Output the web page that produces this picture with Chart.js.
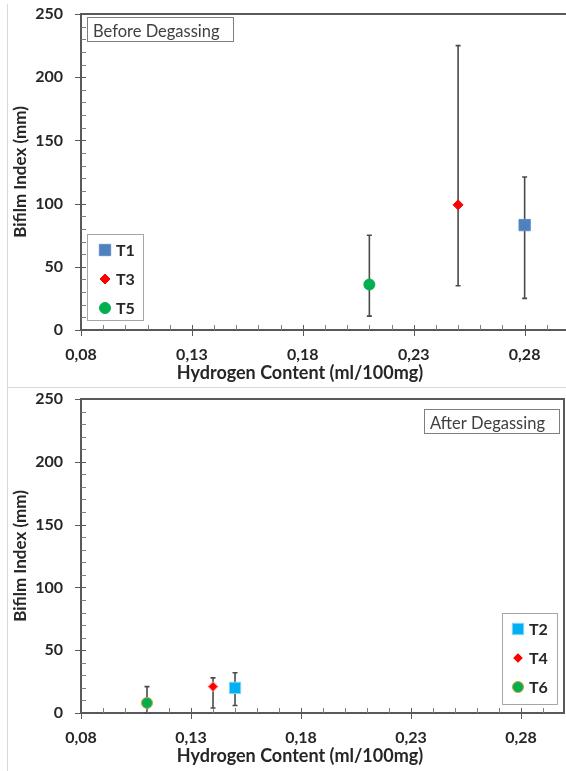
<!DOCTYPE html>
<html>
<head>
<meta charset="utf-8">
<script src="https://cdn.jsdelivr.net/npm/chart.js@4.4.1/dist/chart.umd.min.js"></script>
<style>
  html, body { margin: 0; padding: 0; background: #fff; width: 566px; height: 771px; overflow: hidden; position: relative; }
  .panel { position: absolute; left: 0; overflow: hidden; }
  #beforePanel { top: 0; width: 566px; height: 388px; }
  #afterPanel { top: 388px; width: 566px; height: 383px; }
  .frame { position: absolute; border-color: #d9d9d9; border-style: solid; border-width: 0; }
  #beforeFrame { left: 7px; top: 4px; width: 600px; height: 383px; border-left-width: 1px; border-bottom-width: 1px; }
  #afterFrame { left: 7px; top: 388px; width: 600px; height: 400px; border-left-width: 1px; }
  canvas { position: absolute; left: 0; top: 0; }
</style>
</head>
<body>
<div class="frame" id="beforeFrame"></div>
<div class="frame" id="afterFrame"></div>
<div class="panel" id="beforePanel"><canvas id="beforeChart" width="572" height="388"></canvas></div>
<div class="panel" id="afterPanel"><canvas id="afterChart" width="566" height="383"></canvas></div>
<script>
// before degassing
const beforeSeries = ['T1', 'T3', 'T5'];
const beforeHydrogen = [0.28, 0.25, 0.21];
const beforeBifilm = [83, 99, 36];
const beforeLow = [25, 35, 11];
const beforeHigh = [121, 225, 75];

// after degassing
const afterSeries = ['T2', 'T4', 'T6'];
const afterHydrogen = [0.15, 0.14, 0.11];
const afterBifilm = [20, 21, 8];
const afterLow = [6, 4, 0];
const afterHigh = [32, 28, 21];

const xTicks = [0.08, 0.13, 0.18, 0.23, 0.28];
const yTicks = [0, 50, 100, 150, 200, 250];

function createPalette() {
  return {
    blue: '#4f81bd',
    cyan: '#00b0f0',
    red: '#ff0000',
    green: '#00b050',
    axis: '#595959',
    errorBar: '#4a4a4a',
    text: '#262626',
    legendBorder: '#a6a6a6'
  };
}

const FONT = 'Lato, "Open Sans", sans-serif';
const X_TITLE = 'Hydrogen Content (ml/100mg)';

const errorBarsPlugin = {
  id: 'errorBars',
  beforeDatasetsDraw(chart) {
    const { ctx, scales: { x, y } } = chart;
    ctx.save();
    ctx.strokeStyle = createPalette().errorBar;
    ctx.lineWidth = 1.6;
    chart.data.datasets.forEach(ds => {
      ds.data.forEach((pt, i) => {
        const px = x.getPixelForValue(pt.x);
        const top = y.getPixelForValue(ds.errHigh[i]);
        const bot = y.getPixelForValue(ds.errLow[i]);
        ctx.beginPath();
        ctx.moveTo(px, top); ctx.lineTo(px, bot);
        ctx.moveTo(px - 2.5, top); ctx.lineTo(px + 2.5, top);
        ctx.moveTo(px - 2.5, bot); ctx.lineTo(px + 2.5, bot);
        ctx.stroke();
      });
    });
    ctx.restore();
  }
};

const axisDecorPlugin = {
  id: 'axisDecor',
  afterDraw(chart) {
    const { ctx, chartArea: a, scales: { x, y } } = chart;
    const pal = createPalette();
    ctx.save();
    ctx.strokeStyle = pal.axis;
    // plot frame top and right
    ctx.lineWidth = 2;
    ctx.beginPath();
    ctx.moveTo(a.left, a.top); ctx.lineTo(a.right, a.top); ctx.lineTo(a.right, a.bottom);
    ctx.stroke();
    // minor ticks
    ctx.lineWidth = 1;
    ctx.strokeStyle = '#7f7f7f';
    ctx.beginPath();
    for (let v = 0.08; v <= x.max + 1e-9; v += 0.01) {
      const px = Math.round(x.getPixelForValue(v)) + 0.5;
      ctx.moveTo(px, a.bottom); ctx.lineTo(px, a.bottom - 5);
    }
    for (let v = 0; v <= y.max; v += 10) {
      const py = Math.round(y.getPixelForValue(v)) + 0.5;
      ctx.moveTo(a.left, py); ctx.lineTo(a.left + 5, py);
    }
    ctx.stroke();
    // major ticks crossing the axes
    ctx.strokeStyle = pal.axis;
    ctx.beginPath();
    x.ticks.forEach(t => {
      const px = Math.round(x.getPixelForValue(t.value)) + 0.5;
      ctx.moveTo(px, a.bottom - 5); ctx.lineTo(px, a.bottom + 6);
    });
    y.ticks.forEach(t => {
      const py = Math.round(y.getPixelForValue(t.value)) + 0.5;
      ctx.moveTo(a.left - 6, py); ctx.lineTo(a.left + 5, py);
    });
    ctx.stroke();

    // x axis title, sits left of the plot centre like the original
    ctx.fillStyle = pal.text;
    ctx.font = 'bold 18px ' + FONT;
    ctx.textAlign = 'center';
    ctx.textBaseline = 'middle';
    ctx.fillText(X_TITLE, a.left + 219, a.bottom + 43);

    // caption box
    const cap = chart.options.plugins.caption;
    const cx = cap.anchor === 'left' ? a.left + cap.dx : a.right - cap.dx - cap.w;
    const cy = a.top + cap.dy;
    ctx.fillStyle = '#fff';
    ctx.fillRect(cx, cy, cap.w, cap.h);
    ctx.strokeStyle = '#7f7f7f';
    ctx.lineWidth = 1;
    ctx.strokeRect(cx + 0.5, cy + 0.5, cap.w, cap.h);
    ctx.fillStyle = '#404040';
    ctx.font = '16.5px ' + FONT;
    ctx.textBaseline = 'alphabetic';
    ctx.textAlign = 'left';
    ctx.fillText(cap.text, cx + 6, cy + cap.h - 4);

    // inset legend
    const lg = chart.options.plugins.insetLegend;
    const lx = lg.anchor === 'left' ? a.left + lg.dx : a.right - lg.dx - lg.w;
    const ly = a.bottom - lg.dy - lg.h;
    ctx.fillStyle = '#fff';
    ctx.fillRect(lx, ly, lg.w, lg.h);
    ctx.strokeStyle = pal.legendBorder;
    ctx.strokeRect(lx + 0.5, ly + 0.5, lg.w, lg.h);
    ctx.font = 'bold 16px ' + FONT;
    ctx.textBaseline = 'middle';
    chart.data.datasets.forEach((ds, i) => {
      const my = ly + 16 + i * 29;
      const mx = lx + lg.markerX;
      ctx.fillStyle = ds.backgroundColor;
      ctx.strokeStyle = ds.borderColor;
      ctx.lineWidth = 1;
      Chart.helpers.drawPoint(ctx, { pointStyle: ds.pointStyle, radius: ds.pointRadius, borderWidth: 1, rotation: 0 }, mx, my);
      ctx.fillStyle = pal.text;
      ctx.fillText(ds.label, mx + 11, my + 1);
    });
    ctx.restore();
  }
};

function buildDatasets(names, xs, ys, lows, highs, looks) {
  return names.map((name, i) => ({
    label: name,
    data: [{ x: xs[i], y: ys[i] }],
    errLow: [lows[i]],
    errHigh: [highs[i]],
    pointStyle: looks[i].style,
    pointRadius: looks[i].radius,
    backgroundColor: looks[i].fill,
    borderColor: looks[i].edge,
    borderWidth: 1,
    showLine: false
  }));
}

function noOverflow(s) {
  s.paddingLeft = 0; s.paddingRight = 0; s.paddingTop = 0; s.paddingBottom = 0;
}

function makeOptions(xRightMax, caption, legend) {
  const pal = createPalette();
  const tickFont = { family: FONT, weight: 'bold', size: 16 };
  return {
    responsive: false,
    animation: false,
    events: [],
    layout: { padding: legend.padding, autoPadding: false },
    plugins: {
      legend: { display: false },
      tooltip: { enabled: false },
      caption: caption,
      insetLegend: legend
    },
    scales: {
      x: {
        type: 'linear', min: 0.08, max: xRightMax,
        afterBuildTicks: s => { s.ticks = xTicks.map(v => ({ value: v })); },
        afterFit: s => { s.height = 58; noOverflow(s); },
        grid: { display: false, drawTicks: false },
        border: { display: true, color: pal.axis, width: 2 },
        ticks: { color: pal.text, font: tickFont, padding: 15, autoSkip: false, maxRotation: 0,
          callback: v => v.toFixed(2).replace('.', ',') }
      },
      y: {
        type: 'linear', min: 0, max: 250,
        afterBuildTicks: s => { s.ticks = yTicks.map(v => ({ value: v })); },
        afterFit: s => { s.width = 81; noOverflow(s); },
        grid: { display: false, drawTicks: false },
        border: { display: true, color: pal.axis, width: 2 },
        ticks: { color: pal.text, font: tickFont, padding: 18 },
        title: { display: true, text: 'Bifilm Index (mm)', color: pal.text,
          font: { family: FONT, weight: 'bold', size: 17 }, padding: { top: 10, bottom: 10 } }
      }
    }
  };
}

function initCharts() {
  const pal = createPalette();

  new Chart(document.getElementById('beforeChart'), {
    type: 'scatter',
    data: {
      datasets: buildDatasets(beforeSeries, beforeHydrogen, beforeBifilm, beforeLow, beforeHigh, [
        { style: 'rect', radius: 8, fill: pal.blue, edge: '#5b8ccc' },
        { style: 'rectRot', radius: 5, fill: pal.red, edge: pal.red },
        { style: 'circle', radius: 5.5, fill: pal.green, edge: pal.green }
      ])
    },
    options: makeOptions(0.30,
      { text: 'Before Degassing', anchor: 'left', dx: 6, dy: 3, w: 146, h: 24 },
      { anchor: 'left', dx: 6, dy: 10, w: 56, h: 86, markerX: 18, padding: { top: 14, right: 3, left: 0, bottom: 0 } })
  });

  new Chart(document.getElementById('afterChart'), {
    type: 'scatter',
    data: {
      datasets: buildDatasets(afterSeries, afterHydrogen, afterBifilm, afterLow, afterHigh, [
        { style: 'rect', radius: 8, fill: pal.cyan, edge: '#7fd3f5' },
        { style: 'rectRot', radius: 5, fill: pal.red, edge: '#ffb0b0' },
        { style: 'circle', radius: 5.5, fill: pal.green, edge: '#d49a3a' }
      ])
    },
    options: makeOptions(0.2995,
      { text: 'After Degassing', anchor: 'right', dx: 5, dy: 10, w: 135, h: 24 },
      { anchor: 'right', dx: 7, dy: 9, w: 55, h: 91, markerX: 16, padding: { top: 11, right: 2, left: 0, bottom: 0 } })
  });
}

Chart.register(errorBarsPlugin, axisDecorPlugin);
initCharts();
</script>
</body>
</html>
